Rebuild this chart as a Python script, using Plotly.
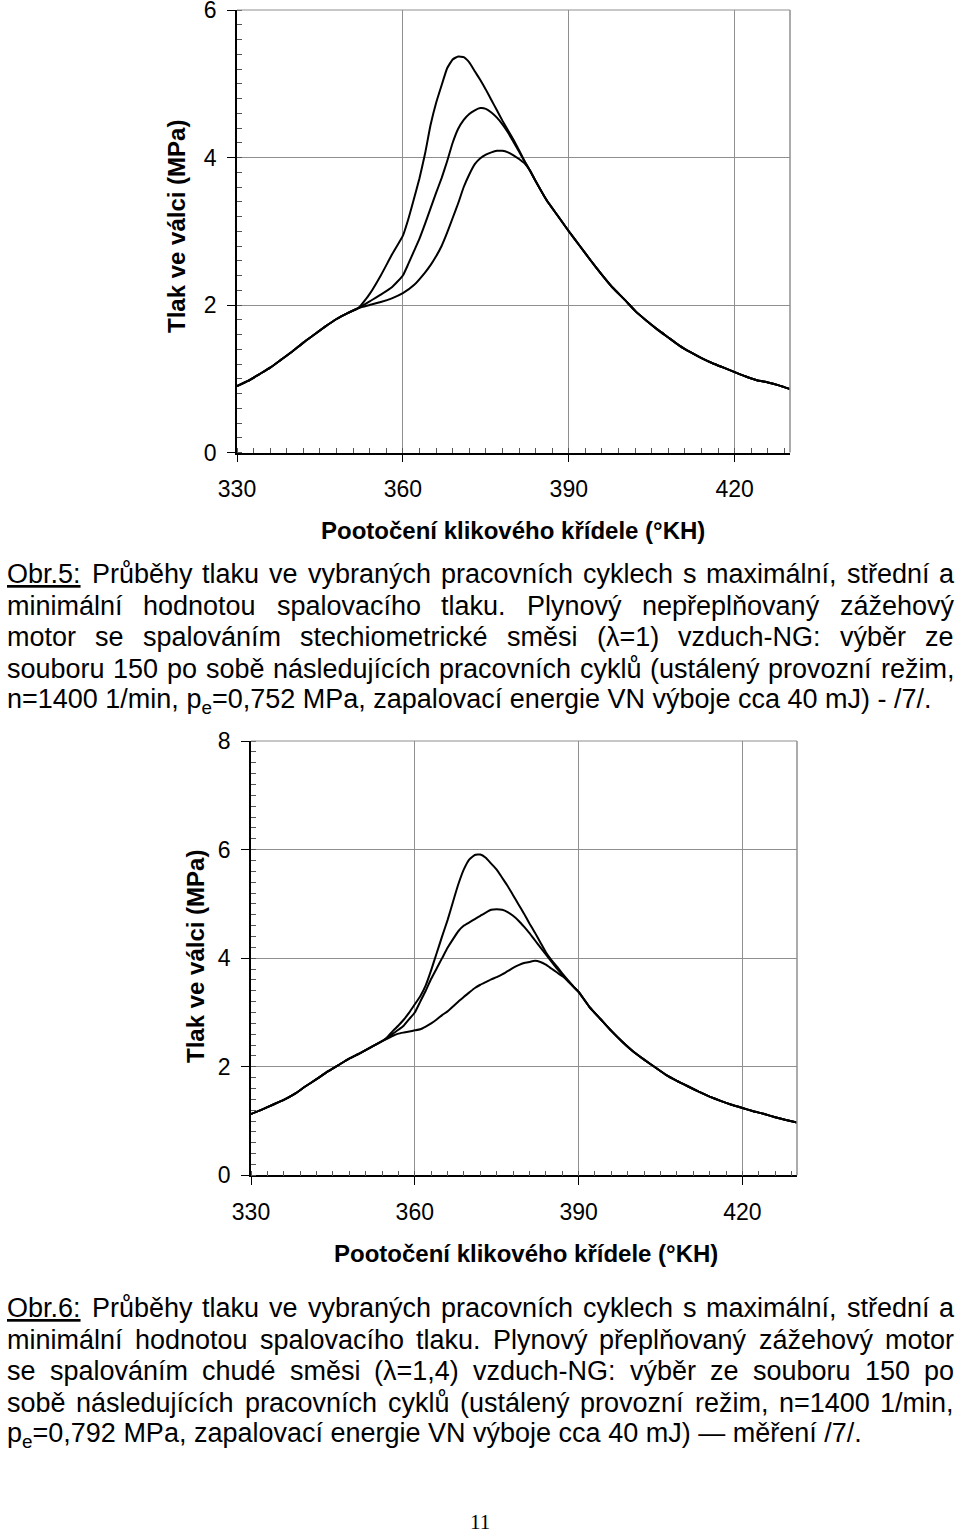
import re
import unicodedata
import plotly.graph_objects as go

# ---------------- data ----------------
# Chart 1 (Obr.5) - crank angle (deg) and cylinder pressure (MPa)
c1_comp_ang = [330, 332, 334, 336, 338, 340, 342, 344, 346, 348, 350, 352]
c1_comp_p = [0.90, 0.97, 1.06, 1.15, 1.26, 1.37, 1.49, 1.60, 1.71, 1.81, 1.89, 1.96]

c1_max_ang = [354, 356, 358, 360, 361, 362, 363, 364, 365, 366, 367, 368, 369, 370,
              371, 372, 373, 374, 375, 376, 377, 378, 379, 380, 381, 382]
c1_max_p = [2.15, 2.40, 2.68, 2.94, 3.17, 3.44, 3.72, 4.05, 4.44, 4.74, 4.98, 5.21, 5.33, 5.37,
            5.36, 5.29, 5.17, 5.05, 4.92, 4.78, 4.64, 4.50, 4.37, 4.24, 4.10, 3.95]

c1_mid_ang = [354, 356, 358, 360, 361, 362, 363, 364, 365, 366, 367, 368, 369, 370,
              371, 372, 373, 374, 375, 376, 377, 378, 379, 380, 381, 382]
c1_mid_p = [2.05, 2.14, 2.24, 2.40, 2.56, 2.73, 2.90, 3.10, 3.31, 3.52, 3.72, 3.95, 4.20, 4.39,
            4.51, 4.59, 4.64, 4.67, 4.66, 4.61, 4.54, 4.45, 4.34, 4.21, 4.08, 3.95]

c1_min_ang = [354, 356, 358, 360, 362, 364, 365, 366, 367, 368, 369, 370,
              371, 372, 373, 374, 375, 376, 377, 378, 379, 380, 381, 382]
c1_min_p = [2.00, 2.04, 2.09, 2.16, 2.27, 2.44, 2.54, 2.66, 2.80, 2.98, 3.18, 3.38,
            3.60, 3.77, 3.91, 3.99, 4.04, 4.07, 4.09, 4.09, 4.07, 4.03, 3.98, 3.92]

c1_exp_ang = [383, 384, 386, 388, 390, 392, 394, 396, 398, 400, 402, 404, 406, 408,
              410, 412, 414, 416, 418, 420, 422, 424, 426, 428, 430]
c1_exp_p = [3.82, 3.68, 3.42, 3.21, 3.00, 2.80, 2.60, 2.41, 2.23, 2.08, 1.92, 1.79, 1.67, 1.56,
            1.45, 1.36, 1.28, 1.21, 1.15, 1.09, 1.03, 0.98, 0.95, 0.91, 0.86]

# Chart 2 (Obr.6)
c2_comp_ang = [330, 332, 334, 336, 338, 340, 342, 344, 346, 348, 350, 352, 354]
c2_comp_p = [1.13, 1.21, 1.30, 1.39, 1.50, 1.64, 1.77, 1.91, 2.03, 2.15, 2.25, 2.36, 2.47]

c2_peak_ang = [355, 356, 357, 358, 359, 360, 361, 362, 363, 364, 365, 366, 367, 368, 369, 370,
               371, 372, 373, 374, 375, 376, 377, 378, 379, 380, 381, 382, 383, 384, 385, 386,
               387, 388]
c2_max_p = [2.55, 2.66, 2.76, 2.87, 3.00, 3.15, 3.30, 3.50, 3.78, 4.09, 4.40, 4.70, 5.04, 5.37,
            5.64, 5.82, 5.90, 5.91, 5.85, 5.74, 5.63, 5.48, 5.33, 5.16, 4.99, 4.82, 4.64, 4.47,
            4.29, 4.11, 3.97, 3.85, 3.72, 3.60]
c2_mid_p = [2.53, 2.61, 2.68, 2.76, 2.88, 3.00, 3.20, 3.40, 3.62, 3.81, 4.00, 4.19, 4.35, 4.50,
            4.60, 4.66, 4.72, 4.78, 4.84, 4.89, 4.90, 4.89, 4.85, 4.78, 4.69, 4.58, 4.46, 4.33,
            4.20, 4.07, 3.94, 3.81, 3.70, 3.59]
c2_min_p = [2.52, 2.57, 2.61, 2.63, 2.65, 2.67, 2.69, 2.74, 2.80, 2.87, 2.95, 3.02, 3.11, 3.20,
            3.29, 3.37, 3.45, 3.51, 3.56, 3.61, 3.65, 3.70, 3.76, 3.82, 3.87, 3.91, 3.93, 3.95,
            3.93, 3.88, 3.81, 3.74, 3.67, 3.58]

c2_exp_ang = [389, 390, 392, 394, 396, 398, 400, 402, 404, 406, 408, 410, 412, 414, 416, 418,
              420, 422, 424, 426, 428, 430]
c2_exp_p = [3.48, 3.38, 3.10, 2.88, 2.66, 2.46, 2.28, 2.13, 1.99, 1.85, 1.74, 1.64, 1.54, 1.45,
            1.37, 1.30, 1.24, 1.18, 1.13, 1.07, 1.02, 0.97]

x_ticks = [330, 360, 390, 420]
y1_ticks = [0, 2, 4, 6]
y2_ticks = [0, 2, 4, 6, 8]

x_title = "Pootočení klikového křídele (°KH)"
y_title = "Tlak ve válci (MPa)"

caption1 = [
    '<span style="text-decoration:underline">Obr.5:</span> Průběhy tlaku ve vybraných pracovních cyklech s maximální, střední a',
    "minimální hodnotou spalovacího tlaku. Plynový nepřeplňovaný zážehový",
    "motor se spalováním stechiometrické směsi (λ=1) vzduch-NG: výběr ze",
    "souboru 150 po sobě následujících pracovních cyklů (ustálený provozní režim,",
    "n=1400 1/min, p<sub>e</sub>=0,752 MPa, zapalovací energie VN výboje cca 40 mJ) - /7/.",
]
caption2 = [
    '<span style="text-decoration:underline">Obr.6:</span> Průběhy tlaku ve vybraných pracovních cyklech s maximální, střední a',
    "minimální hodnotou spalovacího tlaku. Plynový přeplňovaný zážehový motor",
    "se spalováním chudé směsi (λ=1,4) vzduch-NG: výběr ze souboru 150 po",
    "sobě následujících pracovních cyklů (ustálený provozní režim, n=1400 1/min,",
    "p<sub>e</sub>=0,792 MPa, zapalovací energie VN výboje cca 40 mJ) — měření /7/.",
]
page_number = "11"

# ---------------- helpers ----------------
FIG_W, FIG_H = 960, 1533
SANS = "Liberation Sans, Arial, Helvetica, sans-serif"


def fx(px):
    return px / FIG_W


def fy(py):
    return 1 - py / FIG_H


ARIAL = {
    ' ': 278, '!': 278, '(': 333, ')': 333, ',': 278, '-': 333, '.': 278, '/': 278,
    ':': 278, '=': 584, '0': 556, '1': 556, '2': 556, '3': 556, '4': 556, '5': 556,
    '6': 556, '7': 556, '8': 556, '9': 556, 'A': 667, 'B': 667, 'C': 722, 'D': 722,
    'E': 667, 'F': 611, 'G': 778, 'H': 722, 'I': 278, 'J': 500, 'K': 667, 'L': 556,
    'M': 833, 'N': 722, 'O': 778, 'P': 667, 'R': 722, 'S': 667, 'T': 611, 'V': 667,
    'a': 556, 'b': 556, 'c': 500, 'd': 556, 'e': 556, 'f': 278, 'g': 556, 'h': 556,
    'i': 222, 'j': 222, 'k': 500, 'l': 222, 'm': 833, 'n': 556, 'o': 556, 'p': 556,
    'r': 333, 's': 500, 't': 278, 'u': 556, 'v': 500, 'w': 722, 'x': 500, 'y': 500,
    'z': 500, 'λ': 500, '—': 1000, '°': 400,
}


def char_w(ch):
    if ch in ARIAL:
        return ARIAL[ch]
    if ch in 'íìîï':
        return 278
    base = unicodedata.normalize('NFD', ch)[0]
    return ARIAL.get(base, 556)


def text_w(s, size):
    plain = re.sub(r'<[^>]+>', '', s)
    return sum(char_w(c) for c in plain) * size / 1000.0


annotations = []


def add_text(text, x, y, size, xanchor='left', yanchor='middle', family=SANS, angle=0):
    annotations.append(dict(
        text=text, x=fx(x), y=fy(y), xref='paper', yref='paper', showarrow=False,
        xanchor=xanchor, yanchor=yanchor, textangle=angle, borderpad=0,
        font=dict(family=family, size=size, color='black')))


CAP_SIZE = 27
LEFT, RIGHT = 6, 953
LINE_H = 31.7


def add_paragraph(lines, top_y):
    for i, line in enumerate(lines):
        y = top_y + i * LINE_H
        if i == len(lines) - 1:
            add_text(line, LEFT, y, CAP_SIZE)
            continue
        # split into words, keeping html spans intact
        words = re.findall(r'<span[^>]*>.*?</span>|\S+', line)
        widths = [text_w(w, CAP_SIZE) for w in words]
        gap = (RIGHT - LEFT - sum(widths)) / (len(words) - 1)
        x = LEFT
        for w, ww in zip(words, widths):
            add_text(w, x, y, CAP_SIZE)
            x += ww + gap


# ---------------- figure ----------------
fig = go.Figure()

line_style = dict(color='black', width=2, shape='spline', smoothing=0.4)

c1_series = [
    (c1_comp_ang + c1_max_ang + c1_exp_ang, c1_comp_p + c1_max_p + c1_exp_p),
    (c1_comp_ang + c1_mid_ang + c1_exp_ang, c1_comp_p + c1_mid_p + c1_exp_p),
    (c1_comp_ang + c1_min_ang + c1_exp_ang, c1_comp_p + c1_min_p + c1_exp_p),
]
for ang, p in c1_series:
    fig.add_trace(go.Scatter(x=ang, y=p, mode='lines', line=line_style, xaxis='x', yaxis='y',
                             showlegend=False, hoverinfo='skip'))

c2_series = [
    (c2_comp_ang + c2_peak_ang + c2_exp_ang, c2_comp_p + c2_max_p + c2_exp_p),
    (c2_comp_ang + c2_peak_ang + c2_exp_ang, c2_comp_p + c2_mid_p + c2_exp_p),
    (c2_comp_ang + c2_peak_ang + c2_exp_ang, c2_comp_p + c2_min_p + c2_exp_p),
]
for ang, p in c2_series:
    fig.add_trace(go.Scatter(x=ang, y=p, mode='lines', line=line_style, xaxis='x2', yaxis='y2',
                             showlegend=False, hoverinfo='skip'))

GRID = '#8f8f8f'
tickfont = dict(family=SANS, size=23, color='black')


def xaxis(domain, anchor):
    return dict(domain=domain, anchor=anchor, range=[330, 430], tickmode='array',
                tickvals=x_ticks, ticktext=[str(v) for v in x_ticks],
                ticks='outside', ticklen=8, tickwidth=1.2, tickcolor='black',
                showline=True, linecolor='black', linewidth=1.5,
                showgrid=True, gridcolor=GRID, gridwidth=1, zeroline=False,
                minor=dict(tickmode='linear', tick0=330, dtick=3, ticks='inside', ticklen=5,
                           tickwidth=1, tickcolor='#555', showgrid=False),
                tickfont=tickfont, ticklabelstandoff=7, ticklabeloverflow='allow',
                automargin=False, fixedrange=True)


def yaxis(domain, anchor, ymax, ticks):
    return dict(domain=domain, anchor=anchor, range=[0, ymax], tickmode='array',
                tickvals=ticks, ticktext=[str(v) for v in ticks],
                ticks='outside', ticklen=8, tickwidth=1.2, tickcolor='black',
                showline=True, linecolor='black', linewidth=1.5,
                showgrid=True, gridcolor=GRID, gridwidth=1, zeroline=False,
                minor=dict(tickmode='linear', tick0=0, dtick=0.2, ticks='inside', ticklen=5,
                           tickwidth=1, tickcolor='#555', showgrid=False),
                tickfont=tickfont, ticklabelstandoff=6, ticklabeloverflow='allow',
                automargin=False, fixedrange=True)


# plot areas (pixels): chart1 x 237..790, y 10..452.5 ; chart2 x 251..797, y 741..1175.3
fig.update_layout(
    width=FIG_W, height=FIG_H,
    margin=dict(l=0, r=0, t=0, b=0, pad=0, autoexpand=False),
    paper_bgcolor='white', plot_bgcolor='white',
    xaxis=xaxis([fx(237), fx(790)], 'y'),
    yaxis=yaxis([fy(452.5), fy(10)], 'x', 6, y1_ticks),
    xaxis2=xaxis([fx(251), fx(797)], 'y2'),
    yaxis2=yaxis([fy(1175.3), fy(741)], 'x2', 8, y2_ticks),
)

shapes = []
for xr, yr in (('x domain', 'y domain'), ('x2 domain', 'y2 domain')):
    shapes.append(dict(type='line', xref=xr, yref=yr, x0=1, x1=1, y0=0, y1=1,
                       line=dict(color=GRID, width=1.5)))
    shapes.append(dict(type='line', xref=xr, yref=yr, x0=0, x1=1, y0=1, y1=1,
                       line=dict(color=GRID, width=1.2)))
fig.update_layout(shapes=shapes)

# axis titles
add_text('<b>' + x_title + '</b>', 513, 530, 24, xanchor='center')
add_text('<b>' + y_title + '</b>', 177, 227, 24, xanchor='center', angle=-90)
add_text('<b>' + x_title + '</b>', 526, 1253, 24, xanchor='center')
add_text('<b>' + y_title + '</b>', 195, 957, 24, xanchor='center', angle=-90)

# captions
add_paragraph(caption1, 574)
add_paragraph(caption2, 1308)

# page number
add_text(page_number, 480, 1522, 21, xanchor='center',
         family="Liberation Serif, Times New Roman, serif")

fig.update_layout(annotations=annotations)

# the page body gets no default margin so the figure sits at the window's corner
fig.write_html("out.html", config={'displayModeBar': False},
               post_script="document.body.style.margin='0';")
